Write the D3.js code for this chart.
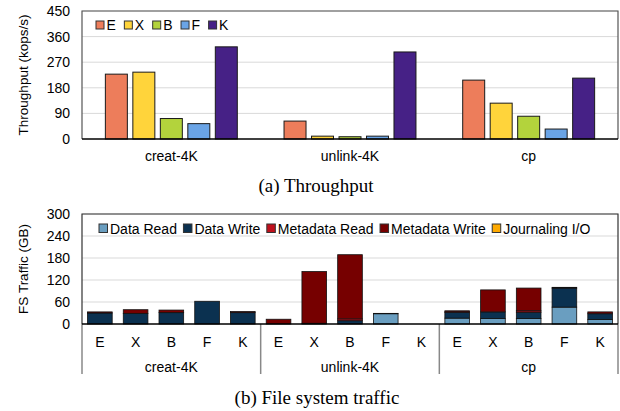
<!DOCTYPE html>
<html>
<head>
<meta charset="utf-8">
<script src="https://cdn.jsdelivr.net/npm/d3@7"></script>
<style>
  html, body { margin: 0; padding: 0; background: #fff; }
  svg { display: block; }
  text { font-family: "Liberation Sans", Arial, sans-serif; fill: #000; }
  .caption { font-family: "Liberation Serif", "Times New Roman", serif; }
</style>
</head>
<body>
<svg id="chart" width="620" height="411"></svg>
<script>
// ---- data: throughput (kops/s) ----
const workloads = ["creat-4K", "unlink-4K", "cp"];
const systems = ["E", "X", "B", "F", "K"];
const systemColors = ["#ED7D5B", "#FFD43B", "#B3D33C", "#6AA4E6", "#462186"];
const throughputE = [228, 63, 207];
const throughputX = [235, 10, 126];
const throughputB = [72, 8, 80];
const throughputF = [54, 10, 35];
const throughputK = [324, 306, 214];
const throughputTicks = [0, 90, 180, 270, 360, 450];

// ---- data: file system traffic (GB), one entry per workload/system bar ----
const trafficKinds = ["Data Read", "Data Write", "Metadata Read", "Metadata Write", "Journaling I/O"];
const trafficColors = ["#6A9EC0", "#0B3150", "#C0101C", "#760000", "#FFAA00"];
const dataRead      = [0, 0, 0, 0, 0,    0, 0, 0, 28, 0,     16, 15, 15, 46, 12];
const dataWrite     = [30, 29, 31, 62, 31,  0, 2, 9, 1, 0,    16, 18, 17, 52, 16];
const metadataRead  = [0, 0, 0, 0, 0,    0, 0, 5, 0, 0,      1, 0, 4, 0, 0];
const metadataWrite = [3, 10, 7, 0, 3,   13, 141, 175, 0, 0,  3, 60, 62, 2, 5];
const journalingIO  = [0, 0, 0, 0, 0,    0, 0, 0, 0, 0,      0, 0, 0, 0, 0];
const trafficTicks = [0, 60, 120, 180, 240, 300];

const svg = d3.select("#chart");
const L = 82, R = 618;

// ================= (a) Throughput =================
const topT = 11, topB = 139;
const yA = d3.scaleLinear().domain([0, 450]).range([topB, topT]);
const x0A = d3.scaleBand().domain(workloads).range([L, R]);
const x1A = d3.scaleBand().domain(systems).range([0, x0A.bandwidth()])
  .paddingInner(0.2).paddingOuter(0.85);

const gA = svg.append("g");
gA.selectAll("line.grid").data(throughputTicks.filter(d => d > 0)).join("line")
  .attr("x1", L).attr("x2", R)
  .attr("y1", d => yA(d)).attr("y2", d => yA(d))
  .attr("stroke", "#d9d9d9").attr("stroke-width", 1);

const throughput = [throughputE, throughputX, throughputB, throughputF, throughputK];
workloads.forEach((w, wi) => {
  systems.forEach((s, si) => {
    const v = throughput[si][wi];
    gA.append("rect")
      .attr("x", x0A(w) + x1A(s))
      .attr("y", yA(v))
      .attr("width", x1A.bandwidth())
      .attr("height", yA(0) - yA(v))
      .attr("fill", systemColors[si])
      .attr("stroke", "#1a1a1a").attr("stroke-width", 1);
  });
});

// frame
gA.append("path")
  .attr("d", `M${L},${topB}V${topT}H${R}V${topB}`)
  .attr("fill", "none").attr("stroke", "#555").attr("stroke-width", 1.2);
gA.append("line").attr("x1", L).attr("x2", R).attr("y1", topB).attr("y2", topB)
  .attr("stroke", "#000").attr("stroke-width", 1.5);

// y axis labels
const yAxisA = d3.axisLeft(yA).tickValues(throughputTicks).tickSize(0).tickPadding(12);
const axA = gA.append("g").attr("transform", `translate(${L},0)`).call(yAxisA);
axA.select(".domain").remove();
axA.selectAll("text").style("font-size", "14px").style("font-family", "Liberation Sans, Arial, sans-serif");

gA.append("text")
  .attr("transform", `translate(23,${(topT + topB) / 2}) rotate(-90)`)
  .attr("text-anchor", "middle").attr("dominant-baseline", "central")
  .style("font-size", "13.5px").text("Throughput (kops/s)");

// x labels
const xAxisA = d3.axisBottom(x0A).tickSize(0).tickPadding(12);
const axXA = gA.append("g").attr("transform", `translate(0,${topB})`).call(xAxisA);
axXA.select(".domain").remove();
axXA.selectAll("text").style("font-size", "14px").style("font-family", "Liberation Sans, Arial, sans-serif");

// legend
let lx = 96;
const legA = gA.append("g");
systems.forEach((s, i) => {
  legA.append("rect").attr("x", lx).attr("y", 21).attr("width", 8).attr("height", 8)
    .attr("fill", systemColors[i]).attr("stroke", "#333").attr("stroke-width", 1);
  const t = legA.append("text").attr("x", lx + 10.5).attr("y", 25)
    .attr("dominant-baseline", "central").style("font-size", "14px").text(s);
  lx += 10.5 + t.node().getComputedTextLength() + 8.5;
});

svg.append("text").attr("class", "caption")
  .attr("x", 316).attr("y", 185).attr("text-anchor", "middle")
  .attr("dominant-baseline", "central").style("font-size", "19px")
  .text("(a) Throughput");

// ================= (b) File system traffic =================
const botT = 214, botB = 324, sepB = 374;
const yB = d3.scaleLinear().domain([0, 300]).range([botB, botT]);
const barKeys = [];
workloads.forEach(w => systems.forEach(s => barKeys.push(w + "|" + s)));
const xB = d3.scaleBand().domain(barKeys).range([L, R]).paddingInner(0.31).paddingOuter(0.155);
const x0B = d3.scaleBand().domain(workloads).range([L, R]);

const gB = svg.append("g");
gB.selectAll("line.grid").data(trafficTicks.filter(d => d > 0)).join("line")
  .attr("x1", L).attr("x2", R)
  .attr("y1", d => yB(d)).attr("y2", d => yB(d))
  .attr("stroke", "#d9d9d9").attr("stroke-width", 1);

const rows = barKeys.map((k, i) => ({
  key: k,
  "Data Read": dataRead[i],
  "Data Write": dataWrite[i],
  "Metadata Read": metadataRead[i],
  "Metadata Write": metadataWrite[i],
  "Journaling I/O": journalingIO[i]
}));
const stacked = d3.stack().keys(trafficKinds)(rows);
stacked.forEach((layer, li) => {
  gB.append("g").selectAll("rect")
    .data(layer.filter(d => d[1] - d[0] > 0))
    .join("rect")
    .attr("x", d => xB(d.data.key))
    .attr("y", d => yB(d[1]))
    .attr("width", xB.bandwidth())
    .attr("height", d => yB(d[0]) - yB(d[1]))
    .attr("fill", trafficColors[li])
    .attr("stroke", "#111").attr("stroke-width", 0.8);
});

// frame and group separators
gB.append("path")
  .attr("d", `M${L},${botB}V${botT}H${R}V${botB}`)
  .attr("fill", "none").attr("stroke", "#333").attr("stroke-width", 1.2);
const seps = workloads.map(w => x0B(w)).concat([R]);
gB.selectAll("line.sep").data(seps).join("line")
  .attr("x1", d => d).attr("x2", d => d)
  .attr("y1", botB).attr("y2", sepB)
  .attr("stroke", "#888").attr("stroke-width", 1.5);
gB.append("line").attr("x1", L).attr("x2", R).attr("y1", botB).attr("y2", botB)
  .attr("stroke", "#000").attr("stroke-width", 1.5);

// y axis
const yAxisB = d3.axisLeft(yB).tickValues(trafficTicks).tickSize(0).tickPadding(12);
const axB = gB.append("g").attr("transform", `translate(${L},0)`).call(yAxisB);
axB.select(".domain").remove();
axB.selectAll("text").style("font-size", "14px").style("font-family", "Liberation Sans, Arial, sans-serif");

gB.append("text")
  .attr("transform", `translate(23,${(botT + botB) / 2}) rotate(-90)`)
  .attr("text-anchor", "middle").attr("dominant-baseline", "central")
  .style("font-size", "13.5px").text("FS Traffic (GB)");

// system labels under each bar
gB.selectAll("text.sys").data(barKeys).join("text")
  .attr("x", d => xB(d) + xB.bandwidth() / 2)
  .attr("y", 342).attr("text-anchor", "middle").attr("dominant-baseline", "central")
  .style("font-size", "14px").text(d => d.split("|")[1]);
// workload labels
gB.selectAll("text.wl").data(workloads).join("text")
  .attr("x", d => x0B(d) + x0B.bandwidth() / 2)
  .attr("y", 367).attr("text-anchor", "middle").attr("dominant-baseline", "central")
  .style("font-size", "14px").text(d => d);

// legend
let bx = 99;
const legB = gB.append("g");
trafficKinds.forEach((k, i) => {
  legB.append("rect").attr("x", bx).attr("y", 224).attr("width", 8.5).attr("height", 8.5)
    .attr("fill", trafficColors[i]).attr("stroke", "#333").attr("stroke-width", 1);
  const t = legB.append("text").attr("x", bx + 11).attr("y", 228.5)
    .attr("dominant-baseline", "central").style("font-size", "14px").text(k);
  bx += 11 + t.node().getComputedTextLength() + 6.5;
});

svg.append("text").attr("class", "caption")
  .attr("x", 317).attr("y", 397).attr("text-anchor", "middle")
  .attr("dominant-baseline", "central").style("font-size", "19px")
  .text("(b) File system traffic");
</script>
</body>
</html>
